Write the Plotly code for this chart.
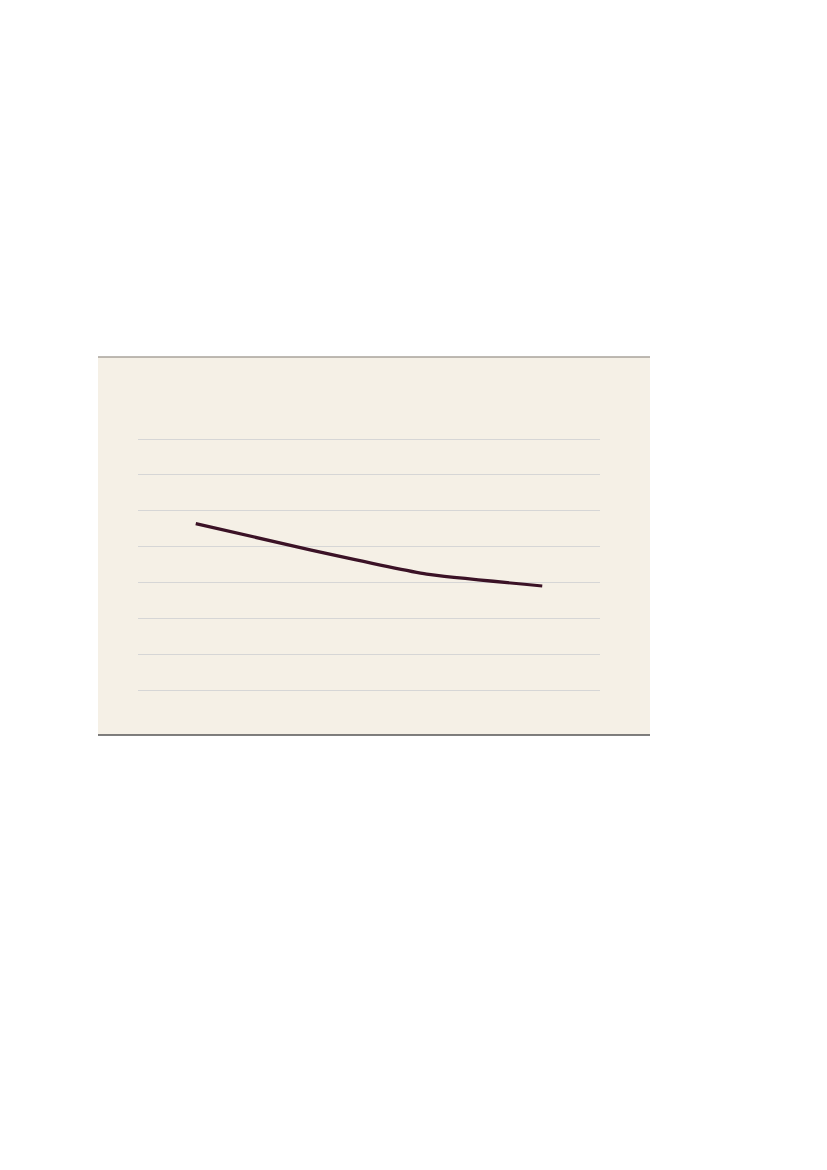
import plotly.graph_objects as go

# Data (no labels are shown in the reference)
periods = ["P1", "P2", "P3", "P4"]
values = [56.4, 49.0, 42.3, 39.0]
grid_ticks = [10, 20, 30, 40, 50, 60, 70, 80]

# page body adds 8px, so everything is placed 8px up/left of the target
PAGE_W, PAGE_H = 827, 1170
BOX_LEFT, BOX_RIGHT = 90, 642
PLOT_LEFT, PLOT_RIGHT = 130, 592
BOX_TOP, BOX_BOTTOM = 349, 727

BEIGE = "#f5f0e6"
LINE_COLOR = "#3b1226"

plot_w = PLOT_RIGHT - PLOT_LEFT


def to_paper_x(px):
    return (px - PLOT_LEFT) / plot_w


fig = go.Figure()

fig.add_trace(
    go.Scatter(
        x=periods,
        y=values,
        mode="lines",
        line=dict(color=LINE_COLOR, width=3.2, shape="spline", smoothing=0.4),
        showlegend=False,
        hoverinfo="skip",
    )
)

# beige panel behind the plot
fig.add_shape(
    type="rect",
    xref="paper",
    yref="paper",
    x0=to_paper_x(BOX_LEFT),
    x1=to_paper_x(BOX_RIGHT),
    y0=0,
    y1=1,
    fillcolor=BEIGE,
    line_width=0,
    layer="below",
)
# top rule
fig.add_shape(
    type="line",
    xref="paper",
    yref="paper",
    x0=to_paper_x(BOX_LEFT),
    x1=to_paper_x(BOX_RIGHT),
    y0=1,
    y1=1,
    line=dict(color="#a8a39b", width=1.5),
)
# bottom rule
fig.add_shape(
    type="line",
    xref="paper",
    yref="paper",
    x0=to_paper_x(BOX_LEFT),
    x1=to_paper_x(BOX_RIGHT),
    y0=0,
    y1=0,
    line=dict(color="#555555", width=1.5),
)

fig.update_xaxes(
    type="category",
    range=[-0.5, len(periods) - 0.5],
    showgrid=False,
    showticklabels=False,
    zeroline=False,
    showline=False,
    ticks="",
)
fig.update_yaxes(
    range=[-2.55, 102.87],
    tickvals=grid_ticks,
    showticklabels=False,
    showgrid=True,
    gridcolor="#d6d6d6",
    gridwidth=1,
    zeroline=False,
    showline=False,
    ticks="",
)

fig.update_layout(
    width=PAGE_W,
    height=PAGE_H,
    margin=dict(
        l=PLOT_LEFT,
        r=PAGE_W - PLOT_RIGHT,
        t=BOX_TOP,
        b=PAGE_H - BOX_BOTTOM,
        pad=0,
    ),
    paper_bgcolor="white",
    plot_bgcolor="rgba(0,0,0,0)",
    font=dict(family="Roboto"),
)

fig.write_html("out.html")
